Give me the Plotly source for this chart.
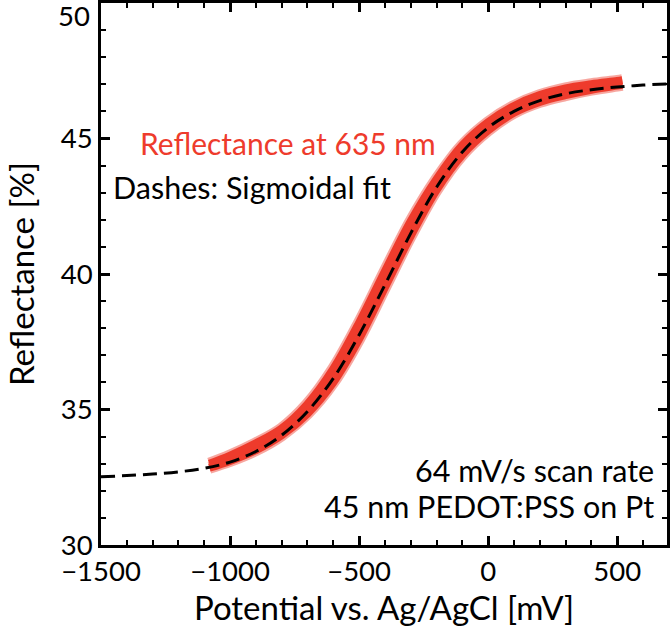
import plotly.graph_objects as go

# ---- data ----
fit_x = [-1500, -1400, -1300, -1200, -1100, -1000, -900, -800, -700, -600, -500,
         -400, -300, -200, -100, 0, 100, 200, 300, 400, 500, 600, 700]
fit_y = [32.52, 32.56, 32.62, 32.70, 32.83, 33.06, 33.45, 34.05, 34.93, 36.15, 37.75,
         39.60, 41.50, 43.20, 44.50, 45.40, 46.00, 46.40, 46.65, 46.80, 46.90, 46.97, 47.02]

scan_x = [-1080, -1000, -900, -800, -700, -600, -500, -400, -300, -200, -100,
          0, 100, 200, 300, 400, 500, 520]
scan_fwd = [32.85, 33.10, 33.50, 34.05, 34.85, 36.00, 37.60, 39.50, 41.40, 43.10, 44.40,
            45.30, 45.95, 46.35, 46.60, 46.80, 46.95, 46.98]
scan_rev = [33.00, 33.30, 33.75, 34.30, 35.20, 36.50, 38.20, 40.10, 41.95, 43.50, 44.75,
            45.60, 46.20, 46.60, 46.85, 47.00, 47.12, 47.15]

x_tick_step = 500
y_tick_step = 5
y_top_label = "50"

label_main = "Reflectance at 635 nm"
label_fit = "Dashes: Sigmoidal fit"
label_rate = "64 mV/s scan rate"
label_film = "45 nm PEDOT:PSS on Pt"

RED = "#ee3b2c"
FONT = "Lato"
TICK_SIZE = 27.5
TITLE_SIZE = 33
NOTE_SIZE = 30.5

fig = go.Figure()
for ys in (scan_fwd, scan_rev):
    fig.add_trace(go.Scatter(x=scan_x, y=ys, mode="lines",
                             line=dict(color="rgba(238,59,44,0.45)", width=12, shape="spline"),
                             showlegend=False, hoverinfo="skip"))
for ys in (scan_fwd, scan_rev):
    fig.add_trace(go.Scatter(x=scan_x, y=ys, mode="lines",
                             line=dict(color=RED, width=8, shape="spline"),
                             showlegend=False, hoverinfo="skip"))
fig.add_trace(go.Scatter(x=fit_x, y=fit_y, mode="lines",
                         line=dict(color="black", width=3, dash="14px,7px", shape="spline"),
                         showlegend=False))

axis_common = dict(
    showline=True, linecolor="black", linewidth=2.5, mirror="ticks",
    ticks="inside", ticklen=9, tickwidth=2.5, tickcolor="black",
    showgrid=False, zeroline=False, tickmode="linear", tick0=0,
    tickfont=dict(family=FONT, size=TICK_SIZE, color="black"),
)

fig.update_xaxes(
    range=[-1500, 693], dtick=x_tick_step,
    minor=dict(dtick=100, ticks="inside", ticklen=5, tickwidth=2,
               tickcolor="black"),
    title=dict(text="Potential vs. Ag/AgCl [mV]",
               font=dict(family=FONT, size=TITLE_SIZE, color="black"), standoff=0),
    **axis_common,
)
fig.update_yaxes(
    range=[30, 50], dtick=y_tick_step, labelalias={y_top_label: " "},
    minor=dict(dtick=1, ticks="inside", ticklen=5, tickwidth=2,
               tickcolor="black"),
    title=dict(text="Reflectance [%]",
               font=dict(family=FONT, size=TITLE_SIZE, color="black"), standoff=17),
    **axis_common,
)

fig.add_annotation(x=0, xref="paper", y=50, yref="y", text=y_top_label, showarrow=False,
                   xanchor="right", yanchor="middle", xshift=-9, yshift=-12,
                   font=dict(family=FONT, size=TICK_SIZE, color="black"))
fig.add_annotation(x=0.0685, xref="paper", y=44.85, text=label_main, showarrow=False,
                   xanchor="left", yanchor="middle", xshift=-2,
                   font=dict(family=FONT, size=30, color=RED))
fig.add_annotation(x=0.021, xref="paper", y=43.2, text=label_fit, showarrow=False,
                   xanchor="left", yanchor="middle", xshift=-2,
                   font=dict(family=FONT, size=NOTE_SIZE, color="black"))
fig.add_annotation(x=1, xref="paper", y=32.75, text=label_rate, showarrow=False,
                   xanchor="right", yanchor="middle", xshift=-11,
                   font=dict(family=FONT, size=NOTE_SIZE, color="black"))
fig.add_annotation(x=1, xref="paper", y=31.45, text=label_film, showarrow=False,
                   xanchor="right", yanchor="middle", xshift=-11,
                   font=dict(family=FONT, size=NOTE_SIZE, color="black"))

fig.update_layout(
    width=670, height=634,
    margin=dict(l=101, r=0, t=1, b=89),
    paper_bgcolor="white", plot_bgcolor="white",
    font=dict(family=FONT, color="black"),
    showlegend=False,
)

fig.write_html("out.html")
